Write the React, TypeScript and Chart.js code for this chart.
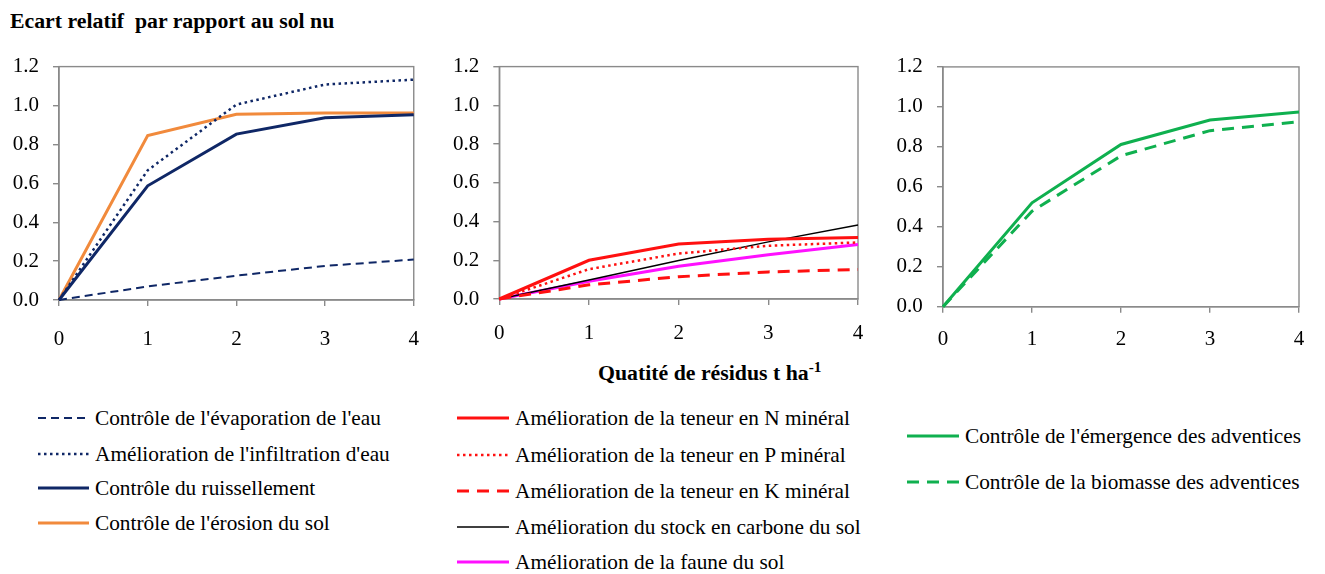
import React, { useEffect, useRef } from "react";
import { Chart, registerables } from "chart.js";
Chart.register(...registerables);

// ---------- data ----------
const xValues = [0, 1, 2, 3, 4];
const yMin = 0;
const yMax = 1.2;
const yStep = 0.2;

// panel 1
const evaporation = [0, 0.07, 0.125, 0.175, 0.208];
const infiltration = [0, 0.667, 1.005, 1.108, 1.133];
const ruissellement = [0, 0.587, 0.853, 0.937, 0.953];
const erosion = [0, 0.845, 0.955, 0.962, 0.962];
// panel 2
const teneurN = [0, 0.2, 0.284, 0.309, 0.317];
const teneurP = [0, 0.154, 0.235, 0.275, 0.292];
const teneurK = [0, 0.073, 0.115, 0.14, 0.152];
const carbone = [0, 0.098, 0.199, 0.295, 0.382];
const faune = [0, 0.092, 0.169, 0.229, 0.282];
// panel 3
const emergence = [0, 0.52, 0.812, 0.934, 0.974];
const biomasse = [0, 0.478, 0.755, 0.881, 0.926];

const titleText = "Ecart relatif  par rapport au sol nu";
const xTitleText = "Quatité de résidus t ha";
const xTitleSup = "-1";

// ---------- styles ----------
type Series = { label: string; values: number[]; color: string; width: number; dash: number[] };

const NAVY = "#0f2766";
const ORANGE = "#f18a3c";
const RED = "#ff1010";
const MAGENTA = "#ff10ff";
const GREEN = "#0fb04f";
const FRAME = "#8a8a8a";
const FONT = "Liberation Serif";
const STRETCH = "scaleX(1.015)";

const panel1: Series[] = [
  { label: "Contrôle de l'évaporation de l'eau", values: evaporation, color: NAVY, width: 2, dash: [8, 5] },
  { label: "Amélioration de l'infiltration d'eau", values: infiltration, color: NAVY, width: 2.5, dash: [2.5, 3.5] },
  { label: "Contrôle du ruissellement", values: ruissellement, color: NAVY, width: 3, dash: [] },
  { label: "Contrôle de l'érosion du sol", values: erosion, color: ORANGE, width: 3, dash: [] },
];
const panel2: Series[] = [
  { label: "Amélioration de la teneur en N minéral", values: teneurN, color: RED, width: 3, dash: [] },
  { label: "Amélioration de la teneur en P minéral", values: teneurP, color: RED, width: 2.5, dash: [2.5, 3.5] },
  { label: "Amélioration de la teneur en K minéral", values: teneurK, color: RED, width: 3, dash: [12, 8] },
  { label: "Amélioration du stock en carbone du sol", values: carbone, color: "#000000", width: 1.5, dash: [] },
  { label: "Amélioration de la faune du sol", values: faune, color: MAGENTA, width: 3, dash: [] },
];
const panel3: Series[] = [
  { label: "Contrôle de l'émergence des adventices", values: emergence, color: GREEN, width: 3, dash: [] },
  { label: "Contrôle de la biomasse des adventices", values: biomasse, color: GREEN, width: 3, dash: [12, 8] },
];

const framePlugin = {
  id: "frame",
  beforeDatasetsDraw(chart: any) {
    const { ctx, chartArea } = chart;
    ctx.save();
    ctx.strokeStyle = FRAME;
    ctx.lineWidth = 1.4;
    ctx.strokeRect(chartArea.left, chartArea.top, chartArea.right - chartArea.left, chartArea.bottom - chartArea.top);
    ctx.restore();
  },
};

type PanelProps = {
  left: number;
  top: number;
  width: number;
  height: number;
  area: { left: number; top: number; right: number; bottom: number };
  xPad: number;
  yPad: number;
  series: Series[];
};

function Panel({ left, top, width, height, area, xPad, yPad, series }: PanelProps) {
  const ref = useRef<HTMLCanvasElement>(null);
  useEffect(() => {
    if (!ref.current) return;
    const chart = new Chart(ref.current, {
      type: "line",
      data: {
        datasets: series.map((s) => ({
          label: s.label,
          data: xValues.map((x, i) => ({ x, y: s.values[i] })),
          borderColor: s.color,
          backgroundColor: s.color,
          borderWidth: s.width,
          borderDash: s.dash,
          pointRadius: 0,
          tension: 0,
          clip: false as any,
        })),
      },
      options: {
        responsive: false,
        animation: false,
        devicePixelRatio: 1,
        layout: { padding: { left: 0, top: area.top, right: width - area.right, bottom: 0 } },
        plugins: { legend: { display: false }, tooltip: { enabled: false }, title: { display: false } },
        scales: {
          x: {
            type: "linear",
            min: 0,
            max: 4,
            ticks: { stepSize: 1, padding: xPad, color: "#000", font: { family: FONT, size: 21 } },
            grid: { drawOnChartArea: false, drawTicks: true, tickLength: 6, color: FRAME, lineWidth: 1.4 },
            border: { color: FRAME, width: 1.4 },
            afterFit: (s: any) => {
              s.height = height - area.bottom;
            },
          },
          y: {
            type: "linear",
            min: yMin,
            max: yMax,
            ticks: {
              stepSize: yStep,
              padding: yPad,
              color: "#000",
              font: { family: FONT, size: 21 },
              callback: (v: any) => Number(v).toFixed(1),
            },
            grid: { drawOnChartArea: false, drawTicks: true, tickLength: 6, color: FRAME, lineWidth: 1.4 },
            border: { color: FRAME, width: 1.4 },
            afterFit: (s: any) => {
              s.width = area.left;
            },
          },
        },
      },
      plugins: [framePlugin],
    });
    return () => chart.destroy();
  }, []);
  return (
    <canvas
      ref={ref}
      width={width}
      height={height}
      style={{ position: "absolute", left, top, width, height }}
    />
  );
}

function Legend({ series, lineX1, lineX2, textX, rows }: { series: Series[]; lineX1: number; lineX2: number; textX: number; rows: number[] }) {
  return (
    <>
      {series.map((s, i) => (
        <div
          key={s.label}
          style={{
            position: "absolute",
            left: lineX1,
            top: rows[i] - 13,
            height: 26,
            display: "flex",
            alignItems: "center",
            whiteSpace: "nowrap",
          }}
        >
          <svg width={textX - lineX1} height={26} style={{ display: "block", flex: "none" }}>
            <line
              x1={0}
              y1={13}
              x2={lineX2 - lineX1}
              y2={13}
              stroke={s.color}
              strokeWidth={s.width}
              strokeDasharray={s.dash.length ? s.dash.join(" ") : undefined}
            />
          </svg>
          <span
            style={{
              display: "inline-block",
              fontFamily: FONT,
              fontSize: 21,
              lineHeight: "26px",
              color: "#000",
              transform: STRETCH,
              transformOrigin: "left center",
            }}
          >
            {s.label}
          </span>
        </div>
      ))}
    </>
  );
}

export default function App() {
  return (
    <div style={{ position: "fixed", left: 0, top: 0, width: 1325, height: 574, background: "#fff", overflow: "hidden" }}>
      <div
        style={{
          position: "absolute",
          left: 10,
          top: 8,
          fontFamily: FONT,
          fontWeight: "bold",
          fontSize: 20,
          lineHeight: "26px",
          whiteSpace: "pre",
          color: "#000",
          transform: "scaleX(1.09)",
          transformOrigin: "left center",
        }}
      >
        {titleText}
      </div>
      <Panel left={0} top={40} width={440} height={320} area={{ left: 59, top: 19.5, right: 418, bottom: 260 }} xPad={21} yPad={14} series={panel1} />
      <Panel left={440} top={40} width={440} height={320} area={{ left: 59.3, top: 19.3, right: 418, bottom: 259 }} xPad={16} yPad={14} series={panel2} />
      <Panel left={880} top={40} width={445} height={320} area={{ left: 63, top: 18, right: 419, bottom: 266.7 }} xPad={14} yPad={14.3} series={panel3} />
      <div
        style={{
          position: "absolute",
          left: 598,
          top: 360,
          fontFamily: FONT,
          fontWeight: "bold",
          fontSize: 20,
          lineHeight: "26px",
          whiteSpace: "nowrap",
          color: "#000",
          transform: "scaleX(1.09)",
          transformOrigin: "left center",
        }}
      >
        {xTitleText}
        <sup style={{ fontSize: 14, lineHeight: 0 }}>{xTitleSup}</sup>
      </div>
      <Legend series={panel1} lineX1={38} lineX2={89} textX={95} rows={[418, 454, 488, 523]} />
      <Legend series={panel2} lineX1={457} lineX2={509} textX={515} rows={[418, 455, 491, 527, 562]} />
      <Legend series={panel3} lineX1={907} lineX2={959} textX={965} rows={[436, 482]} />
    </div>
  );
}
